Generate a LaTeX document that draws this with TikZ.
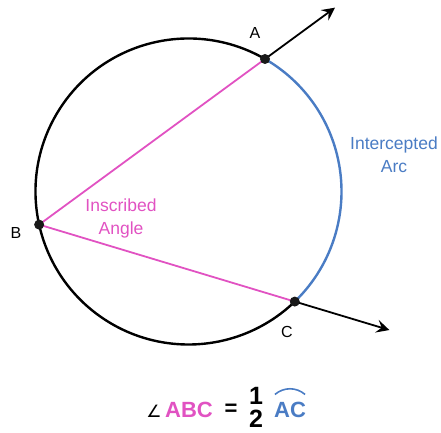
\documentclass[tikz,border=0pt]{standalone}
\usepackage{fontspec}
\setmainfont{Liberation Sans}
\newfontfamily\symfont{DejaVu Sans}
\usetikzlibrary{arrows.meta,calc}
\definecolor{pinkc}{HTML}{E152C2}
\definecolor{bluec}{HTML}{4A7CC4}
\begin{document}
\begin{tikzpicture}[x=1pt,y=1pt,
  lab/.style={inner sep=0pt, font=\fontsize{16}{19}\selectfont},
  desc/.style={inner sep=0pt, align=center, font=\fontsize{17.5}{23}\selectfont},
  formula/.style={inner sep=0pt, font=\fontsize{22}{26}\selectfont\bfseries},
  digit/.style={inner sep=0pt, font=\fontsize{25}{28}\selectfont\bfseries},
  chord/.style={pinkc, line width=1.8pt},
  ray/.style={black, line width=1.8pt, -{Stealth[length=13pt,width=13pt,inset=5pt]}},
  dotfill/.style={fill=black!90}
]
\useasboundingbox (0,0) rectangle (441,432);
\coordinate (O) at (188.5,240.5);
\coordinate (A) at ($(O)+(60:153)$);
\coordinate (B) at ($(O)+(192.5:153)$);
\coordinate (C) at ($(O)+(-46:153)$);
\coordinate (Aend) at ($(B)!1.31!(A)$);
\coordinate (Cend) at ($(B)!1.37!(C)$);

% circle
\draw[line width=2.4pt] (A) arc[start angle=60,end angle=314,radius=153pt];
\draw[bluec, line width=2.4pt] (C) arc[start angle=-46,end angle=60,radius=153pt];

% chords
\draw[chord] (A) -- (B) -- (C);

% rays
\draw[ray] (A) -- (Aend);
\draw[ray] (C) -- (Cend);

% points
\fill[dotfill] (A) circle (5pt);
\fill[dotfill] (B) circle (5pt);
\fill[dotfill] (C) circle (5pt);

% labels
\node[lab] (la) at (255,399) {A};
\node[lab] (lb) at (16,199) {B};
\node[lab] (lc) at (287,100) {C};
\node[desc, pinkc] (ia) at (121,214) {Inscribed\\Angle};
\node[desc, bluec] (arc) at (394,277) {Intercepted\\Arc};

% formula
\node[inner sep=0pt, anchor=base, font=\symfont\fontsize{17}{20}\selectfont] (ang) at (154,15) {∠};
\node[formula, pinkc, anchor=base] (abc) at (189,15) {ABC};
\node[formula] (eq) at (231,22) {=};
\node[digit] (one) at (256,36) {1};
\node[digit] (two) at (256,13) {2};
\node[formula, bluec, anchor=base] (ac) at (290,15) {AC};
\draw[bluec, line width=1.6pt] ($(ac.north west)+(1,7)$) to[bend left=40] ($(ac.north east)+(-1,7)$);
\end{tikzpicture}
\end{document}
